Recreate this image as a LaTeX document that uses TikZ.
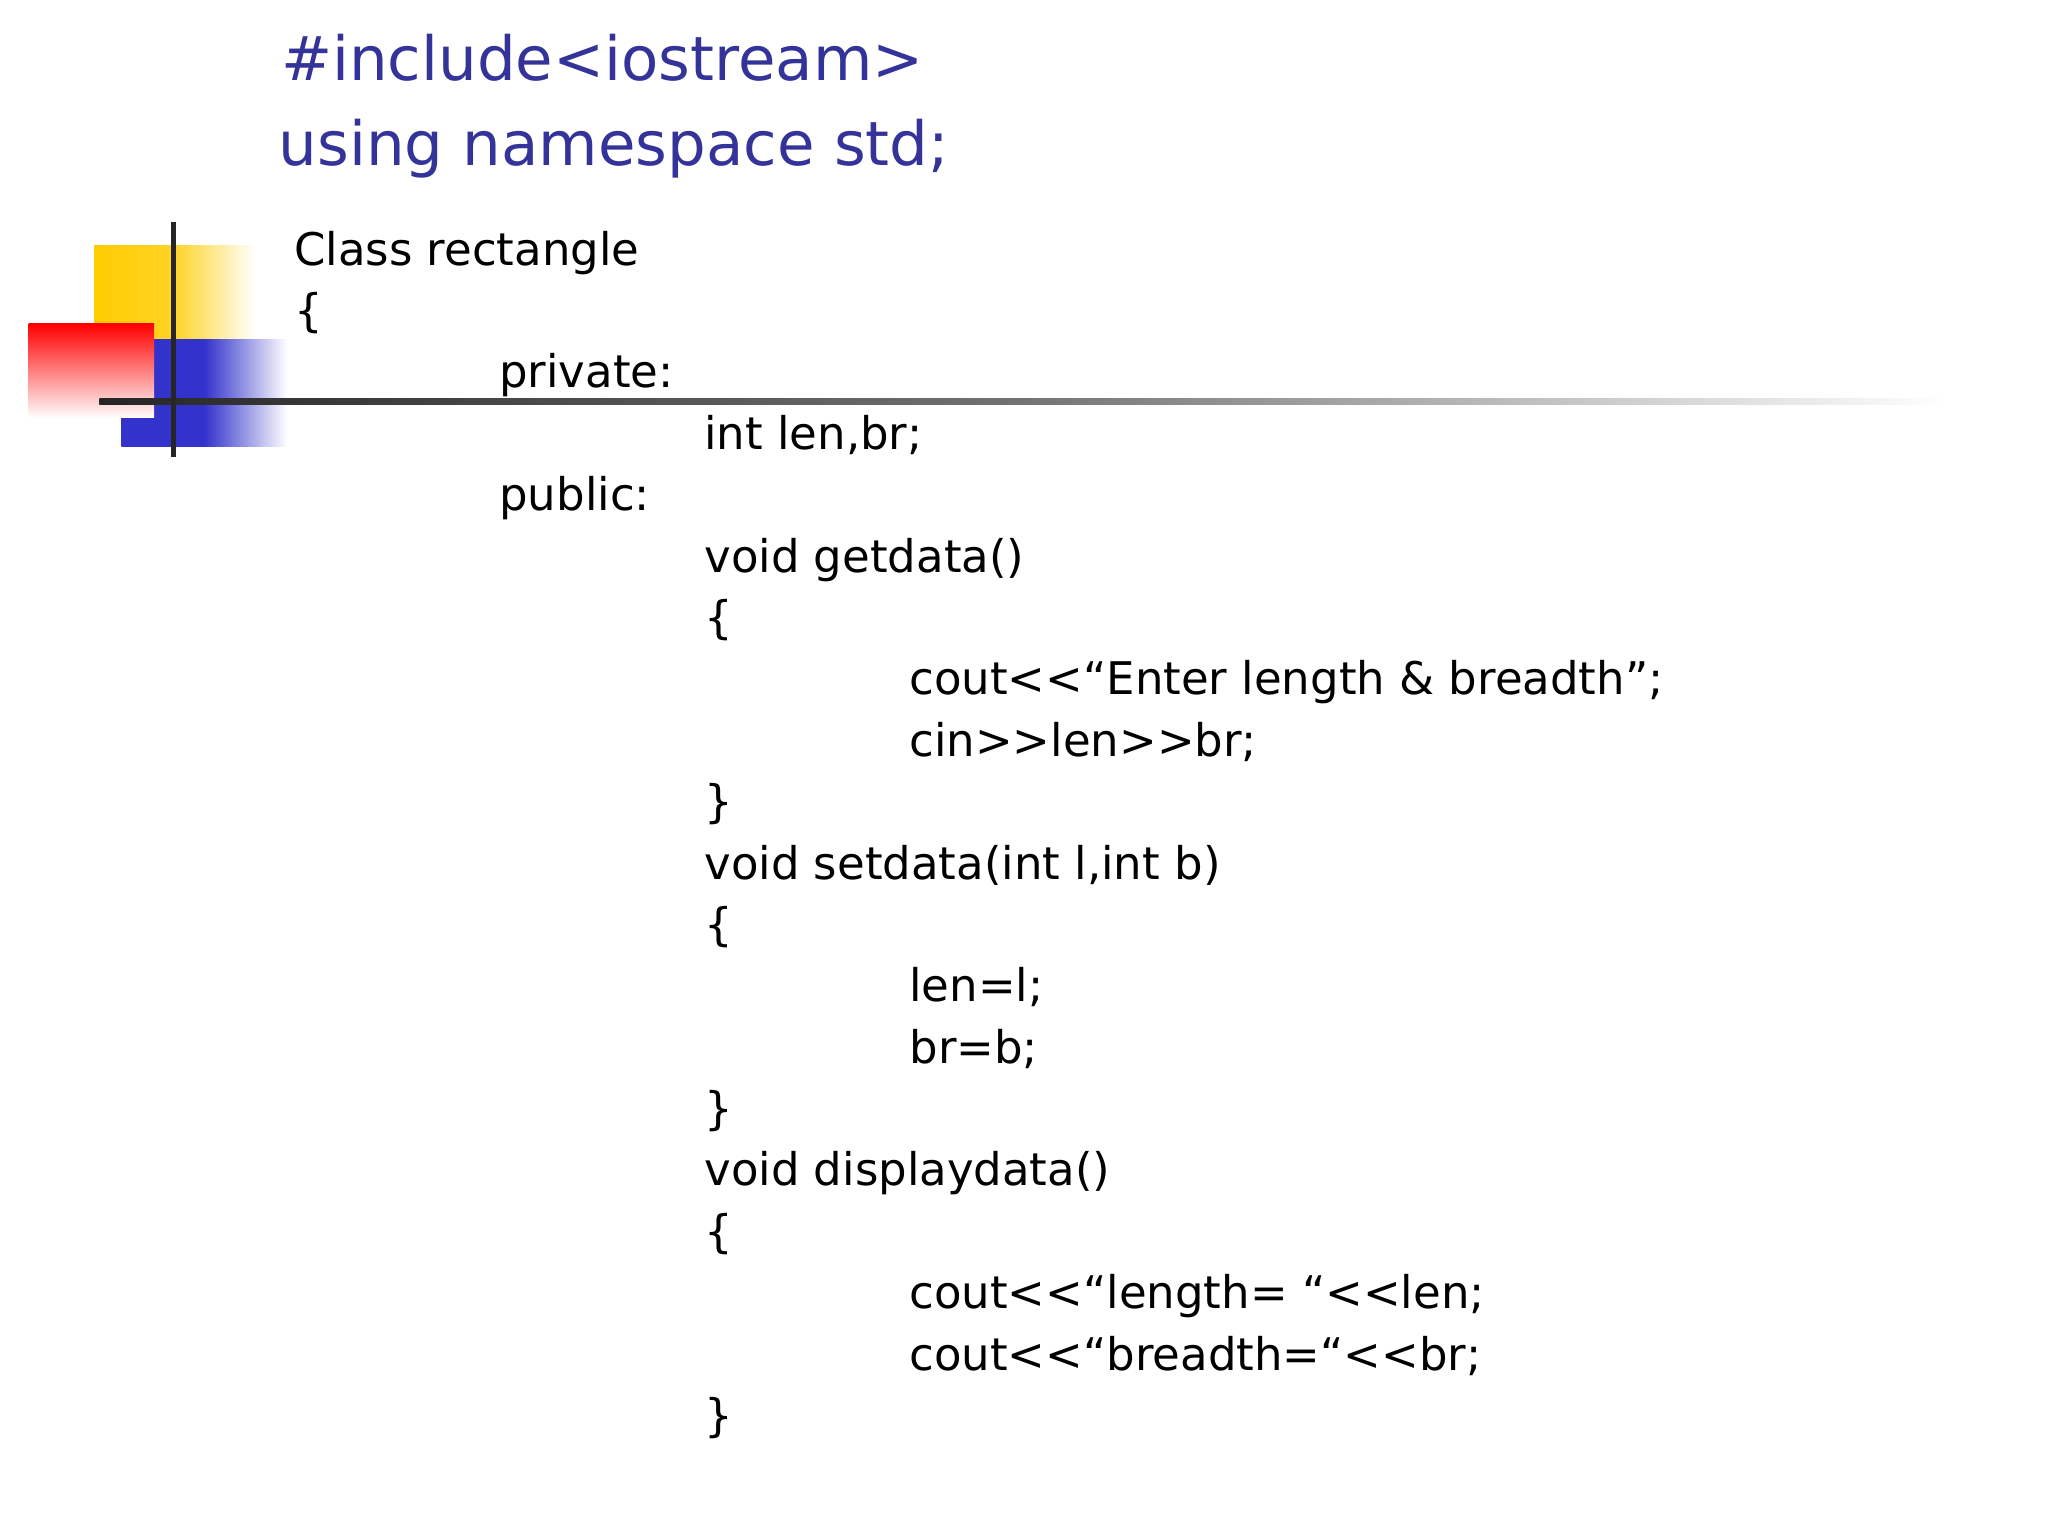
\documentclass[tikz,border=0pt]{standalone}
\usepackage{fontspec}
\setmainfont{DejaVu Sans}
\definecolor{titleblue}{HTML}{333399}
\definecolor{sqyellow}{HTML}{FFCC00}
\definecolor{sqred}{HTML}{FF0000}
\definecolor{sqblue}{HTML}{3333CC}
\begin{document}
\begin{tikzpicture}[x=0.653pt,y=-0.653pt,
  code/.style={anchor=base west,inner sep=0pt,font=\fontsize{22.5}{27}\selectfont},
  ttl/.style={anchor=base west,inner sep=0pt,text=titleblue,font=\fontsize{30.5}{36}\selectfont}]
\useasboundingbox (0,0) rectangle (1568,1176);
% decoration
\shade[left color=sqyellow,right color=white,middle color=sqyellow!85] (72,188) rectangle (195,262);
\shade[left color=sqblue,right color=white,middle color=sqblue] (93,260) rectangle (220,342);
\shade[shading=axis,shading angle=135,top color=sqred,bottom color=white] (22,248) rectangle (118,320);
\shade[left color=black!85,right color=white,middle color=black!55] (76,305) rectangle (1490,310);
\fill[black!85] (131,170) rectangle (135,350);
% title
\node[ttl] (t1) at (215,62) {\#include<iostream>};
\node[ttl] (t2) at (213,127) {using namespace std;};
% code
\node[code] (l1) at (225,203) {Class rectangle};
\node[code] (l2) at (225,250) {\{};
\node[code] (l3) at (382,297) {private:};
\node[code] (l4) at (539,344) {int len,br;};
\node[code] (l5) at (382,391) {public:};
\node[code] (l6) at (539,438) {void getdata()};
\node[code] (l7) at (539,485) {\{};
\node[code] (l8) at (696,532) {cout<{}<“Enter length \& breadth”;};
\node[code] (l9) at (696,579) {cin>{}>len>{}>br;};
\node[code] (l10) at (539,626) {\}};
\node[code] (l11) at (539,673) {void setdata(int l,int b)};
\node[code] (l12) at (539,720) {\{};
\node[code] (l13) at (696,767) {len=l;};
\node[code] (l14) at (696,814) {br=b;};
\node[code] (l15) at (539,861) {\}};
\node[code] (l16) at (539,908) {void displaydata()};
\node[code] (l17) at (539,955) {\{};
\node[code] (l18) at (696,1002) {cout<{}<“length= “<{}<len;};
\node[code] (l19) at (696,1049) {cout<{}<“breadth=“<{}<br;};
\node[code] (l20) at (539,1096) {\}};
\end{tikzpicture}
\end{document}
